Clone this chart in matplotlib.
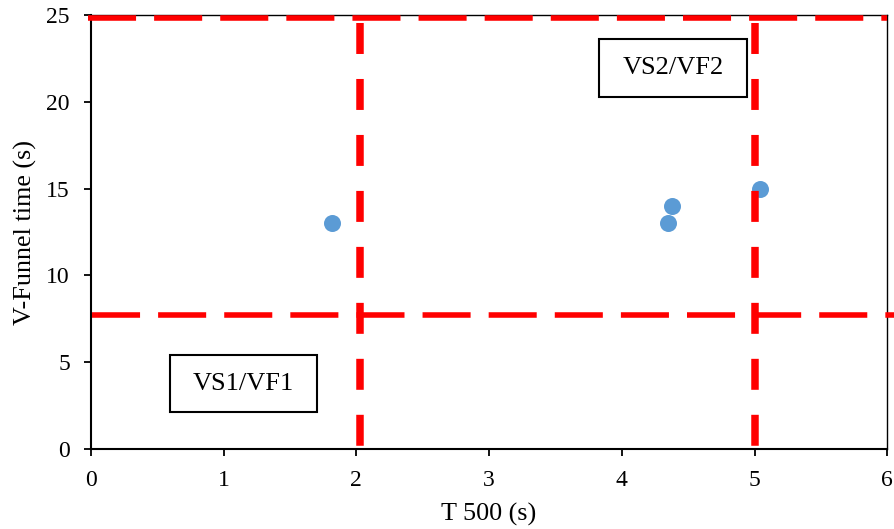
import matplotlib.pyplot as plt
from matplotlib.patches import Rectangle

plt.rcParams['font.family'] = ['Liberation Serif', 'DejaVu Serif']
plt.rcParams['lines.scale_dashes'] = False

# measured slump-flow / V-funnel results
t500 = [1.82, 4.35, 4.38, 5.04]
vfunnel = [13, 13, 14, 15]

# class boundaries
t500_limits = [2.03, 5.0]
vf_limits = [7.7, 24.84]
vf_limit_ends = [(0.01, 6.05), (-0.02, 6.0)]
t500_top = 24.55

class_labels = ['VS1/VF1', 'VS2/VF2']
class_boxes = [(0.597, 2.12, 1.107, 3.28), (3.83, 20.28, 1.11, 3.35)]

fig = plt.figure(figsize=(8.94, 5.29), dpi=100)
ax = fig.add_axes([0.1015, 0.1518, 0.891, 0.8189])

ax.scatter(t500, vfunnel, s=150, color='#5B9BD5', zorder=2, linewidths=0)

red = '#FF0000'
for y, (x0, x1) in zip(vf_limits, vf_limit_ends):
    ax.plot([x0, x1], [y, y], color=red, lw=4.0, dashes=(34.6, 13),
            clip_on=False, zorder=3)
for x in t500_limits:
    ax.plot([x, x], [t500_top, 0], color=red, lw=5.4, dashes=(22.3, 18),
            clip_on=False, zorder=3)

for label, (bx, by, bw, bh) in zip(class_labels, class_boxes):
    ax.add_patch(Rectangle((bx, by), bw, bh, fill=False, ec='black',
                           lw=1.5, zorder=4))
    ax.text(bx + bw / 2, by + bh / 2, label, ha='center', va='center',
            fontsize=19, zorder=5)

ax.set_xlim(0, 6)
ax.set_ylim(0, 25)
ax.set_xticks(range(0, 7))
ax.set_yticks(range(0, 26, 5))
ax.tick_params(direction='out', length=5, width=1.3, labelsize=17)
ax.tick_params(axis='x', pad=10)
ax.tick_params(axis='y', pad=10)

for side in ['left', 'bottom']:
    ax.spines[side].set_linewidth(1.5)
for side in ['top', 'right']:
    ax.spines[side].set_linewidth(1.0)

ax.set_xlabel('T 500 (s)', fontsize=18.8, labelpad=9)
ax.set_ylabel('V-Funnel time (s)', fontsize=18.8, labelpad=7)

fig.savefig('out.png', dpi=100)
